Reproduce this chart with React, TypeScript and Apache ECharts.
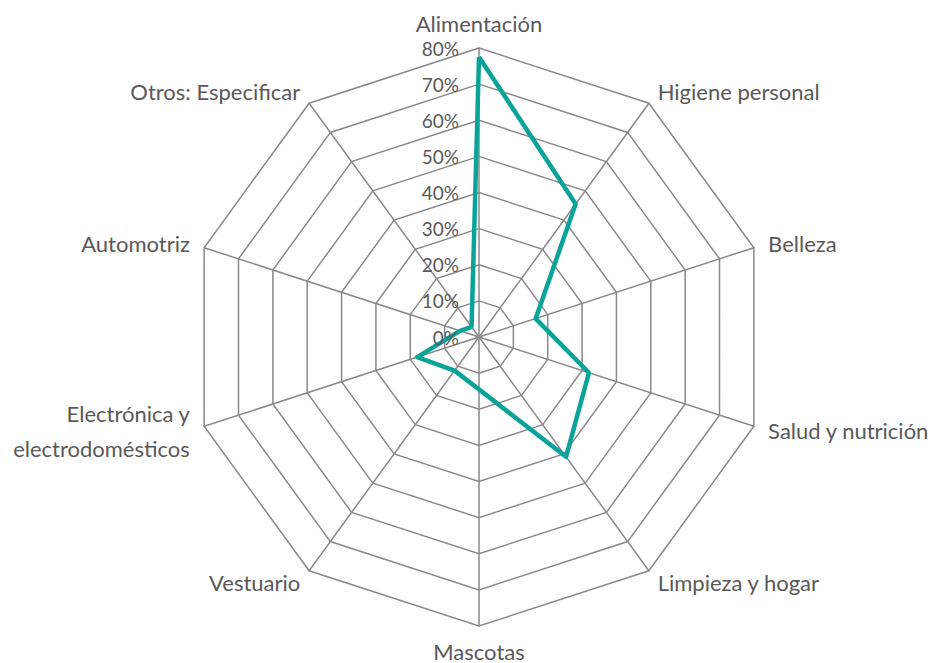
import React, { useEffect, useRef } from "react";
import * as echarts from "echarts";

const categories = [
  "Alimentación",
  "Higiene personal",
  "Belleza",
  "Salud y nutrición",
  "Limpieza y hogar",
  "Mascotas",
  "Vestuario",
  "Electrónica y\nelectrodomésticos",
  "Automotriz",
  "Otros: Especificar",
];
const values = [77.5, 45.5, 16.5, 32, 41, 14.5, 11.5, 18, 5.5, 3.5];
const axisMax = 80;
const axisStep = 10;

export default function App() {
  const ref = useRef<HTMLDivElement>(null);
  useEffect(() => {
    if (!ref.current) return;
    const chart = echarts.init(ref.current, undefined, { renderer: "svg" });
    // ECharts radar goes counter-clockwise; reverse (keeping first) to go clockwise
    const order = [0, ...categories.map((_, i) => i).slice(1).reverse()];
    const indicator = order.map((i) => ({ name: categories[i], max: axisMax, min: 0 }));
    const data = order.map((i) => values[i]);
    const textColor = "#595959";
    const gridColor = "#898989";
    const font = "Lato, 'Open Sans', sans-serif";
    chart.setOption({
      animation: false,
      radar: {
        center: [479, 337],
        radius: 289,
        startAngle: 90,
        shape: "polygon",
        splitNumber: axisMax / axisStep,
        indicator,
        nameGap: 15,
        axisName: {
          color: textColor,
          fontSize: 22,
          fontFamily: font,
          lineHeight: 20,
          formatter: (name: string) =>
            name.includes("\n")
              ? name
                  .split("\n")
                  .map((l) => `{two|${l}}`)
                  .join("\n")
              : name,
          rich: {
            two: { color: textColor, fontSize: 22, fontFamily: font, lineHeight: 35 },
          },
        },
        axisLine: { lineStyle: { color: gridColor, width: 1.5 } },
        splitLine: { lineStyle: { color: gridColor, width: 1.5 } },
        splitArea: { show: false },
        axisTick: { show: false },
        axisLabel: { show: false },
      },
      polar: { center: [479, 337], radius: 289 },
      angleAxis: { show: false, startAngle: 90, min: 0, max: 360 },
      radiusAxis: {
        type: "value",
        min: 0,
        max: axisMax,
        interval: axisStep,
        axisLine: { show: false },
        axisTick: { show: false },
        splitLine: { show: false },
        axisLabel: {
          formatter: "{value}%",
          color: textColor,
          fontSize: 19,
          fontFamily: font,
          margin: 20,
        },
        z: 10,
      },
      series: [
        {
          type: "radar",
          symbol: "none",
          lineStyle: { color: "#0AA39A", width: 4.5 },
          data: [{ value: data }],
          z: 5,
        },
      ],
    });
    return () => chart.dispose();
  }, []);
  return (
    <div
      ref={ref}
      style={{ position: "fixed", left: 0, top: 0, width: 930, height: 663, background: "#fff" }}
    />
  );
}
